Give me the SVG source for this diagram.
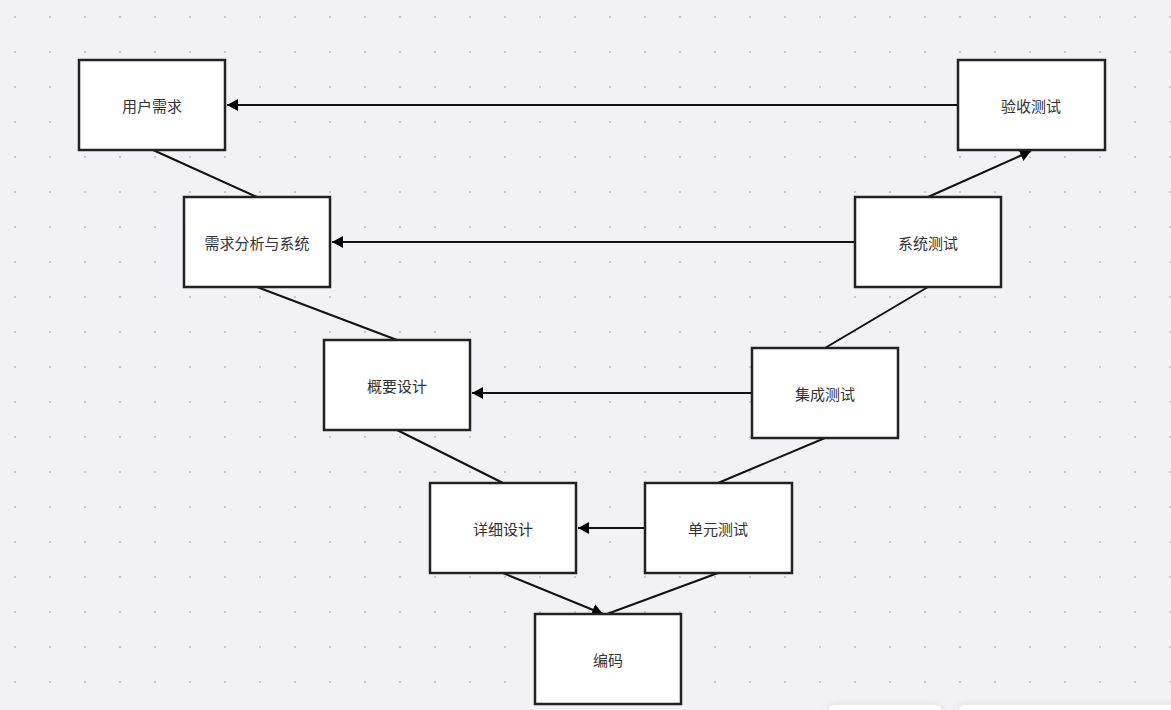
<svg xmlns="http://www.w3.org/2000/svg" width="1171" height="710" viewBox="0 0 1171 710">
<defs>
<pattern id="dots" x="14" y="16" width="35" height="35" patternUnits="userSpaceOnUse">
<rect x="0" y="0" width="2" height="2" fill="#cbcbce"/>
</pattern>
<marker id="arr" viewBox="0 0 11 12" refX="11" refY="6" markerWidth="11" markerHeight="12" markerUnits="userSpaceOnUse" orient="auto">
<path d="M0,0 L11,6 L0,12 Z" fill="#000"/>
</marker>
<filter id="sh" x="-20%" y="-50%" width="140%" height="200%">
<feDropShadow dx="0" dy="0" stdDeviation="4" flood-color="#000" flood-opacity="0.08"/>
</filter>
</defs>
<style>
.box{fill:#fff;stroke:#222;stroke-width:2.5}
.lbl{font-family:"Noto Sans CJK SC","Noto Sans",sans-serif;font-size:15px;fill:#333;text-anchor:middle;dominant-baseline:central}
.ln{stroke:#111;stroke-width:2;fill:none}
</style>
<rect width="1171" height="710" fill="#f2f2f4"/>
<rect width="1171" height="710" fill="url(#dots)"/>
<g id="connectors">
<line class="ln" x1="958" y1="105" x2="227" y2="105" marker-end="url(#arr)"/>
<line class="ln" x1="153" y1="150" x2="257" y2="197"/>
<line class="ln" x1="928" y1="197" x2="1031" y2="151" marker-end="url(#arr)"/>
<line class="ln" x1="855" y1="242" x2="332" y2="242" marker-end="url(#arr)"/>
<line class="ln" x1="257" y1="287" x2="397" y2="340"/>
<line class="ln" x1="928" y1="287" x2="825" y2="348"/>
<line class="ln" x1="752" y1="393" x2="472" y2="393" marker-end="url(#arr)"/>
<line class="ln" x1="397" y1="430" x2="503" y2="483"/>
<line class="ln" x1="825" y1="438" x2="718" y2="483"/>
<line class="ln" x1="645" y1="528" x2="578" y2="528" marker-end="url(#arr)"/>
<line class="ln" x1="503" y1="573" x2="603" y2="614" marker-end="url(#arr)"/>
<line class="ln" x1="718" y1="573" x2="607" y2="614"/>
</g>
<g id="n1"><rect class="box" x="79" y="60" width="146" height="90"/><text class="lbl" x="152" y="105">用户需求</text></g>
<g id="n2"><rect class="box" x="958" y="60" width="147" height="90"/><text class="lbl" x="1031" y="105">验收测试</text></g>
<g id="n3"><rect class="box" x="184" y="197" width="146" height="90"/><text class="lbl" x="257" y="242">需求分析与系统</text></g>
<g id="n4"><rect class="box" x="855" y="197" width="146" height="90"/><text class="lbl" x="928" y="242">系统测试</text></g>
<g id="n5"><rect class="box" x="324" y="340" width="146" height="90"/><text class="lbl" x="397" y="385">概要设计</text></g>
<g id="n6"><rect class="box" x="752" y="348" width="146" height="90"/><text class="lbl" x="825" y="393">集成测试</text></g>
<g id="n7"><rect class="box" x="430" y="483" width="146" height="90"/><text class="lbl" x="503" y="528">详细设计</text></g>
<g id="n8"><rect class="box" x="645" y="483" width="147" height="90"/><text class="lbl" x="718" y="528">单元测试</text></g>
<g id="n9"><rect class="box" x="535" y="614" width="146" height="90"/><text class="lbl" x="608" y="659">编码</text></g>
<g id="toolbar" filter="url(#sh)">
<rect x="828" y="705" width="114" height="20" rx="8" fill="#fff"/>
<rect x="958" y="705" width="230" height="20" rx="8" fill="#fff"/>
</g>
</svg>
